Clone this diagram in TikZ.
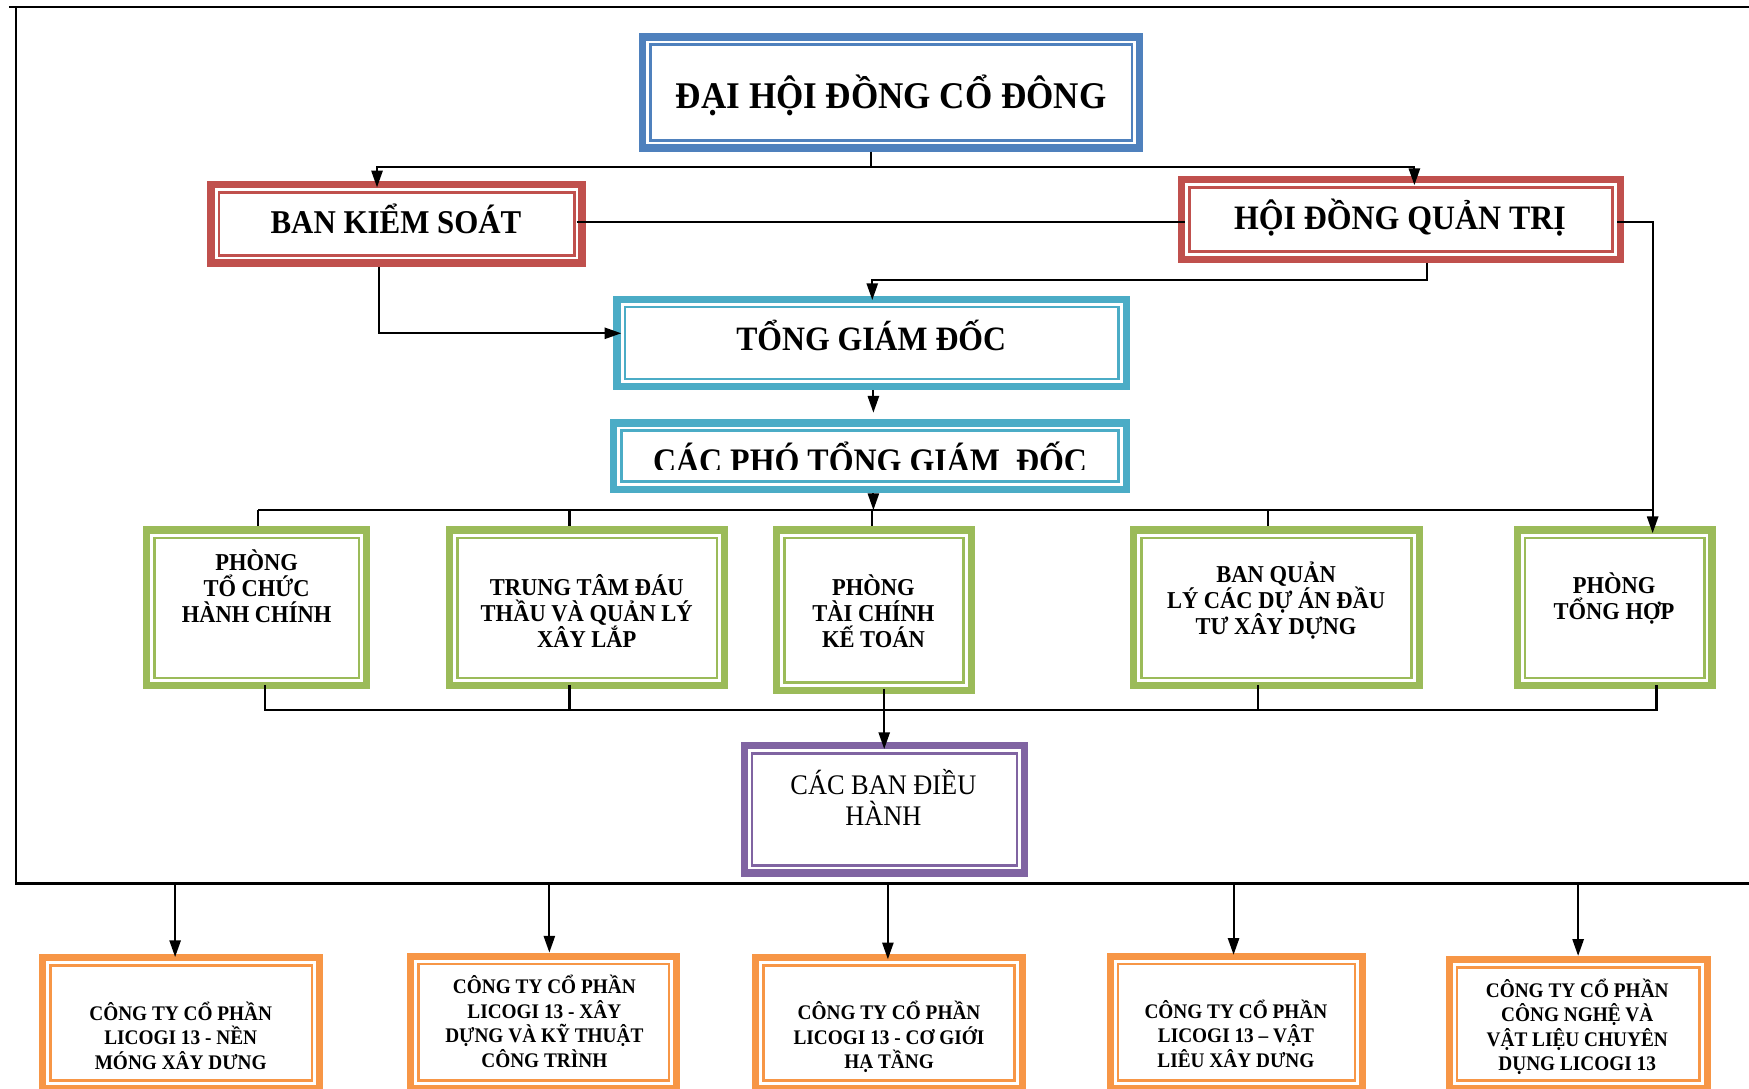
\documentclass[tikz,border=0pt]{standalone}
\usepackage{fontspec}
\setmainfont{Liberation Serif}
\newfontfamily\tnr{Liberation Serif}[FakeStretch=0.93]
\usetikzlibrary{arrows.meta}
\definecolor{cblue}{HTML}{4F81BD}
\definecolor{cred}{HTML}{C0504D}
\definecolor{cteal}{HTML}{4BACC6}
\definecolor{cgreen}{HTML}{9BBB59}
\definecolor{cpurple}{HTML}{8064A2}
\definecolor{corange}{HTML}{F79646}
\tikzset{
  outband/.style={draw=#1, line width=6.5pt, fill=white, inner sep=0pt, outer sep=3.25pt},
  innerline/.style={draw=#1, line width=2.5pt, inner sep=0pt},
  conn/.style={line width=1.9pt, black},
  arr/.style={conn, -{Triangle[length=15pt,width=10pt]}},
  lbl/.style={anchor=base, align=center, inner sep=0pt, font=\tnr\bfseries},
  bigtxt/.style={lbl, font=\tnr\bfseries\fontsize{#1}{#1}\selectfont},
  grtxt/.style={lbl, font=\tnr\bfseries\fontsize{21.7}{23.3}\selectfont},
  ortxt/.style={lbl, font=\tnr\bfseries\fontsize{18.6}{22}\selectfont},
  frameline/.style={line width=2pt, black},
}
\newcommand\orgbox[6]{%
  \node[outband=#6, minimum width={#4pt-6.5pt}, minimum height={#5pt-6.5pt}] (#1) at (#2,#3) {};
  \node[innerline=#6, minimum width={#4pt-20.5pt}, minimum height={#5pt-20.5pt}] (#1-in) at (#2,#3) {};
}
\begin{document}
\begin{tikzpicture}[x=1pt,y=-1pt]
\useasboundingbox (0,0) rectangle (1568,976);
% outer frame
\coordinate (fa) at (8,6);
\coordinate (fb) at (1572,6);
\coordinate (fc) at (14,6);
\coordinate (fd) at (14,792);
\coordinate (fe) at (1572,792);
\draw[frameline] (fa) -- (fb);
\draw[frameline] (fc) -- (fd) -- (fe);

% boxes
\orgbox{A}{799}{83}{452}{106}{cblue}
\orgbox{B}{355.5}{200.5}{339}{77}{cred}
\orgbox{C}{1256}{197}{400}{78}{cred}
\orgbox{D}{781.5}{307.5}{463}{85}{cteal}
\orgbox{E}{780}{409}{466}{66}{cteal}
\orgbox{G1}{230}{545}{204}{146}{cgreen}
\orgbox{G2}{526.5}{545}{253}{146}{cgreen}
\orgbox{G3}{783.5}{547}{181}{150}{cgreen}
\orgbox{G4}{1144.5}{545}{263}{146}{cgreen}
\orgbox{G5}{1447.5}{545}{181}{146}{cgreen}
\orgbox{P}{793}{725.5}{258}{121}{cpurple}
\orgbox{O1}{162.5}{917}{255}{124}{corange}
\orgbox{O2}{487.5}{916.5}{245}{125}{corange}
\orgbox{O3}{797}{917}{246}{124}{corange}
\orgbox{O4}{1108.5}{916.5}{233}{125}{corange}
\orgbox{O5}{1415}{918}{238}{122}{corange}

% connectors
\coordinate (j1) at (781,149.5);
\coordinate (jB) at (338,149.5);
\coordinate (jC) at (1268,149.5);
\draw[conn] (A.south -| j1) -- (j1);
\draw[arr, shorten >=-6pt] (j1) -- (jB) -- (B.north -| jB);
\draw[arr, shorten >=-8pt] (j1) -- (jC) -- (C.north -| jC);

\coordinate (bc) at (0,198.7);
\draw[conn, shorten <=-8pt, shorten >=-6pt] (B.east |- bc) -- (C.west |- bc);
\coordinate (cr) at (1481.6,198.7);
\draw[arr, shorten <=-6pt, shorten >=-6pt] (C.east |- bc) -- (cr) -- (G5.north -| cr);

\coordinate (c1) at (1279,251);
\coordinate (c2) at (782,251);
\draw[arr, shorten >=-4pt] (C.south -| c1) -- (c1) -- (c2) -- (D.north -| c2);

\coordinate (bd) at (339.5,298.8);
\draw[arr, shorten >=-7pt] (B.south -| bd) -- (bd) -- (D.west |- bd);

\coordinate (de) at (783,0);
\draw[arr, shorten >=6pt] (D.south -| de) -- (E.north -| de);

\coordinate (busL) at (231.6,457.3);
\coordinate (busR) at (1481.6,457.3);
\draw[arr] (E.south -| de) -- (de |- busL);
\draw[conn] (busL) -- (busR);
\draw[conn] (busL) -- (G1.north -| busL);
\coordinate (t2) at (510.6,457.3);
\coordinate (t3) at (781.8,457.3);
\coordinate (t4) at (1137,457.3);
\draw[conn] (t2) -- (G2.north -| t2);
\draw[conn] (t3) -- (G3.north -| t3);
\draw[conn] (t4) -- (G4.north -| t4);

\coordinate (u1) at (237.7,636.6);
\coordinate (u2) at (510.6,636.6);
\coordinate (u3) at (792.7,636.6);
\coordinate (u4) at (1127.5,636.6);
\coordinate (u5) at (1485,636.6);
\draw[conn, shorten <=-4pt, shorten >=-4pt] (G1.south -| u1) -- (u1) -- (u5) -- (G5.south -| u5);
\draw[conn, shorten <=-4pt] (G2.south -| u2) -- (u2);
\draw[conn, shorten <=-4pt] (G3.south -| u3) -- (u3);
\draw[conn, shorten <=-4pt] (G4.south -| u4) -- (u4);
\draw[arr, shorten >=-6.5pt] (u3) -- (P.north -| u3);

\coordinate (f1) at (157,792);
\coordinate (f2) at (492.5,792);
\coordinate (f3) at (796,792);
\coordinate (f4) at (1105.9,792);
\coordinate (f5) at (1414.8,792);
\draw[arr, shorten >=-3pt] (f1) -- (O1.north -| f1);
\draw[arr] (f2) -- (O2.north -| f2);
\draw[arr, shorten >=-5pt] (f3) -- (O3.north -| f3);
\draw[arr, shorten >=-2pt] (f4) -- (O4.north -| f4);
\draw[arr] (f5) -- (O5.north -| f5);

% texts (anchor=base is the baseline of the last line)
\node[bigtxt=33.8] (tA) at (799,97) {ĐẠI HỘI ĐỒNG CỔ ĐÔNG};
\node[bigtxt=29.8] (tB) at (355,209.2) {BAN KIỂM SOÁT};
\node[bigtxt=30.7] (tC) at (1255,205.6) {HỘI ĐỒNG QUẢN TRỊ};
\node[bigtxt=30.6] (tD) at (781,313.8) {TỔNG GIÁM ĐỐC};
\begin{scope}
  \clip (560,380) rectangle (1000,421);
  \node[bigtxt=30.8] (tE) at (780,424) {CÁC PHÓ TỔNG GIÁM\ \ ĐỐC};
\end{scope}
\node[grtxt] (tG1) at (230,558.3) {PHÒNG\\TỔ CHỨC\\HÀNH CHÍNH};
\node[grtxt] (tG2) at (526,580.6) {TRUNG TÂM ĐÁU\\THẦU VÀ QUẢN LÝ\\XÂY LẮP};
\node[grtxt] (tG3) at (783,580.6) {PHÒNG\\TÀI CHÍNH\\KẾ TOÁN};
\node[grtxt] (tG4) at (1144,568.6) {BAN QUẢN\\LÝ CÁC DỰ ÁN ĐẦU\\TƯ XÂY DỰNG};
\node[grtxt] (tG5) at (1447,555.3) {PHÒNG\\TỔNG HỢP};
\node[lbl, font=\tnr\fontsize{25.4}{27.6}\selectfont] (tP) at (792,740.3) {CÁC BAN ĐIỀU\\HÀNH};
\node[ortxt] (tO1) at (162,958.5) {CÔNG TY CỔ PHẦN\\LICOGI 13 - NỀN\\MÓNG XÂY DƯNG};
\node[ortxt] (tO2) at (488,957) {CÔNG TY CỔ PHẦN\\LICOGI 13 - XÂY\\DỰNG VÀ KỸ THUẬT\\CÔNG TRÌNH};
\node[ortxt] (tO3) at (797,958) {CÔNG TY CỔ PHẦN\\LICOGI 13 - CƠ GIỚI\\HẠ TẦNG};
\node[ortxt] (tO4) at (1108,957) {CÔNG TY CỔ PHẦN\\LICOGI 13 – VẬT\\LIÊU XÂY DƯNG};
\node[ortxt] (tO5) at (1414,960) {CÔNG TY CỔ PHẦN\\CÔNG NGHỆ VÀ\\VẬT LIỆU CHUYÊN\\DỤNG LICOGI 13};
\end{tikzpicture}
\end{document}
